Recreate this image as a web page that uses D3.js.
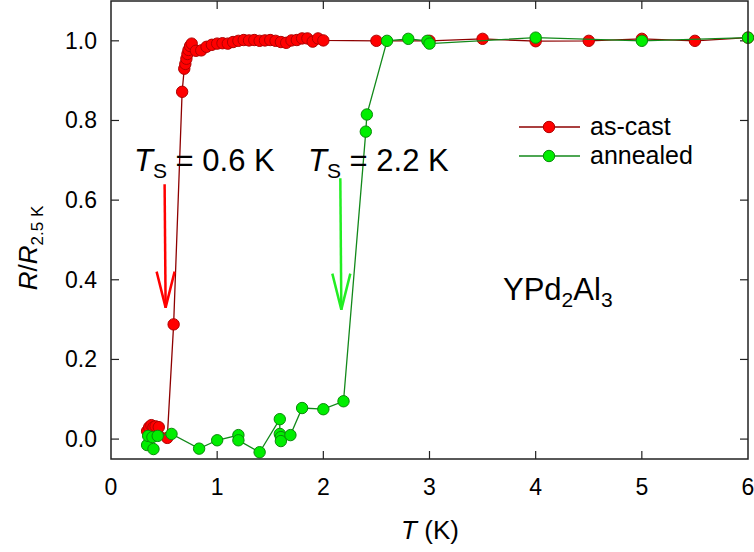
<!DOCTYPE html>
<html>
<head>
<meta charset="utf-8">
<script src="https://cdn.jsdelivr.net/npm/d3@7"></script>
<style>
  body { margin: 0; background: #fff; }
  svg { font-family: "Liberation Sans", Arial, sans-serif; }
</style>
</head>
<body>
<div id="chart"></div>
<script>
// as-cast sample
var redT = [0.34,0.36,0.38,0.40,0.42,0.45,0.53,0.59,0.67,0.69,0.70,0.71,0.72,0.73,0.745,0.76,0.80,0.85,0.90,0.95,1.00,1.05,1.10,1.15,1.20,1.25,1.30,1.35,1.40,1.45,1.50,1.55,1.60,1.65,1.70,1.75,1.80,1.85,1.90,1.95,2.00,2.50,3.00,3.50,4.00,4.50,5.00,5.50,6.00];
var redR = [0.020,0.030,0.035,0.030,0.032,0.030,0.003,0.288,0.872,0.930,0.942,0.955,0.967,0.977,0.987,0.993,0.975,0.976,0.985,0.990,0.993,0.994,0.993,0.997,1.000,1.002,1.001,1.002,1.000,1.001,1.002,1.000,0.997,0.995,1.001,1.002,1.006,1.006,0.998,1.006,1.001,1.000,1.000,1.005,0.999,1.000,1.005,1.000,1.008];
// annealed sample
var greenT = [0.34,0.40,0.35,0.39,0.44,0.57,0.83,1.00,1.20,1.20,1.40,1.59,1.59,1.60,1.60,1.69,1.80,2.00,2.19,2.40,2.41,2.60,2.80,2.98,3.00,4.00,5.00,6.00];
var greenR = [-0.015,-0.025,0.008,0.005,0.008,0.013,-0.024,-0.003,0.010,-0.003,-0.033,0.050,0.013,0.005,-0.005,0.010,0.078,0.075,0.095,0.772,0.815,1.000,1.005,1.000,0.993,1.008,1.000,1.008];

var xTicks = [0,1,2,3,4,5,6];
var yTicks = [0,0.2,0.4,0.6,0.8,1.0];
var seriesNames = ["as-cast", "annealed"];
// arrows marking T_s : [T, R top, R tip]
var arrowRed = [0.505, 0.64, 0.33];
var arrowGreen = [2.16, 0.655, 0.325];

var width = 754, height = 552;
var pLeft = 111, pRight = 748, pTop = 1, pBottom = 459;

var x = d3.scaleLinear().domain([0, 6]).range([pLeft, pRight]);
var y = d3.scaleLinear().domain([-0.05, 1.1]).range([pBottom, pTop]);

var svg = d3.select("#chart").append("svg")
  .attr("width", width)
  .attr("height", height);

var styles = [
  {line: "#8e0000", fill: "#ff0000", stroke: "#b00000"},
  {line: "#12891a", fill: "#00ee00", stroke: "#0a8a0a"}
];

// ticks, pointing inward on all four sides
var tickLen = 8;
xTicks.forEach(function (t) {
  if (t == 0 || t == 6) return;
  svg.append("line").attr("x1", x(t)).attr("x2", x(t))
    .attr("y1", pBottom).attr("y2", pBottom - tickLen)
    .attr("stroke", "#222").attr("stroke-width", 1.2);
  svg.append("line").attr("x1", x(t)).attr("x2", x(t))
    .attr("y1", pTop).attr("y2", pTop + tickLen)
    .attr("stroke", "#222").attr("stroke-width", 1.2);
});
yTicks.forEach(function (t) {
  svg.append("line").attr("x1", pLeft).attr("x2", pLeft + tickLen)
    .attr("y1", y(t)).attr("y2", y(t))
    .attr("stroke", "#222").attr("stroke-width", 1.2);
  svg.append("line").attr("x1", pRight).attr("x2", pRight - tickLen)
    .attr("y1", y(t)).attr("y2", y(t))
    .attr("stroke", "#222").attr("stroke-width", 1.2);
});

svg.selectAll(".xlab")
  .data(xTicks)
  .enter()
  .append("text")
    .attr("class", "xlab")
    .attr("x", function (d) { return x(d); })
    .attr("y", 495)
    .attr("text-anchor", "middle")
    .attr("font-size", 23)
    .text(function (d) { return d; });

svg.selectAll(".ylab")
  .data(yTicks)
  .enter()
  .append("text")
    .attr("class", "ylab")
    .attr("x", 97)
    .attr("y", function (d) { return y(d) + 8; })
    .attr("text-anchor", "end")
    .attr("font-size", 23)
    .text(function (d) { return d.toFixed(1); });

// axis titles
var xt = svg.append("text")
  .attr("x", 430).attr("y", 539)
  .attr("text-anchor", "middle")
  .attr("font-size", 26);
xt.append("tspan").attr("font-style", "italic").text("T");
xt.append("tspan").text(" (K)");

var yt = svg.append("text")
  .attr("transform", "translate(37,248) rotate(-90)")
  .attr("text-anchor", "middle")
  .attr("font-size", 26);
yt.append("tspan").attr("font-style", "italic").text("R");
yt.append("tspan").text("/");
yt.append("tspan").attr("font-style", "italic").text("R");
yt.append("tspan").attr("font-size", 17).attr("dy", 6).text("2.5 K");

// data
var line = d3.line()
  .x(function (d) { return x(d[0]); })
  .y(function (d) { return y(d[1]); });

var series = [d3.zip(redT, redR), d3.zip(greenT, greenR)];

series.forEach(function (data, i) {
  var g = svg.append("g");
  g.append("path")
    .datum(data)
    .attr("d", line)
    .attr("fill", "none")
    .attr("stroke", styles[i].line)
    .attr("stroke-width", 1.3);
  g.selectAll("circle")
    .data(data)
    .enter()
    .append("circle")
      .attr("cx", function (d) { return x(d[0]); })
      .attr("cy", function (d) { return y(d[1]); })
      .attr("r", 5.7)
      .attr("fill", styles[i].fill)
      .attr("stroke", styles[i].stroke)
      .attr("stroke-width", 1);
});

// frame
svg.append("rect")
  .attr("x", pLeft).attr("y", pTop)
  .attr("width", pRight - pLeft).attr("height", pBottom - pTop)
  .attr("fill", "none")
  .attr("stroke", "#222")
  .attr("stroke-width", 1.5);

// arrows
function drawArrow(a, color) {
  var g = svg.append("g")
    .attr("stroke", color)
    .attr("stroke-width", 2.5)
    .attr("fill", "none");
  var xTop = x(a[0]), yTop = y(a[1]), xTip = x(a[0]) + 1, yTip = y(a[2]);
  g.append("line").attr("x1", xTop).attr("y1", yTop).attr("x2", xTip).attr("y2", yTip);
  g.append("path")
    .attr("d", "M" + (xTip - 9) + "," + (yTip - 36) + "L" + xTip + "," + yTip + "L" + (xTip + 9) + "," + (yTip - 36));
}
drawArrow(arrowRed, "#ff0000");
drawArrow(arrowGreen, "#22ee22");

// T_s labels
function tsLabel(xp, val) {
  var t = svg.append("text")
    .attr("x", xp).attr("y", 171)
    .attr("font-size", 31);
  t.append("tspan").attr("font-style", "italic").text("T");
  t.append("tspan").attr("font-size", 21).attr("dy", 7).text("S");
  t.append("tspan").attr("dy", -7).text(" = " + val + " K");
}
tsLabel(134, "0.6");
tsLabel(308, "2.2");

// compound label
var cl = svg.append("text")
  .attr("x", 503).attr("y", 300)
  .attr("font-size", 31);
cl.append("tspan").text("YPd");
cl.append("tspan").attr("font-size", 21).attr("dy", 7).text("2");
cl.append("tspan").attr("dy", -7).text("Al");
cl.append("tspan").attr("font-size", 21).attr("dy", 7).text("3");

// legend
var legend = svg.selectAll(".legend")
  .data(seriesNames)
  .enter()
  .append("g")
    .attr("class", "legend")
    .attr("transform", function (d, i) { return "translate(519," + (127 + i * 29) + ")"; });
legend.append("line")
  .attr("x1", 0).attr("x2", 61)
  .attr("stroke", function (d, i) { return styles[i].line; })
  .attr("stroke-width", 1.3);
legend.append("circle")
  .attr("cx", 30).attr("r", 5.7)
  .attr("fill", function (d, i) { return styles[i].fill; })
  .attr("stroke", function (d, i) { return styles[i].stroke; });
legend.append("text")
  .attr("x", 71).attr("y", 8)
  .attr("font-size", 25)
  .text(function (d) { return d; });
</script>
</body>
</html>
